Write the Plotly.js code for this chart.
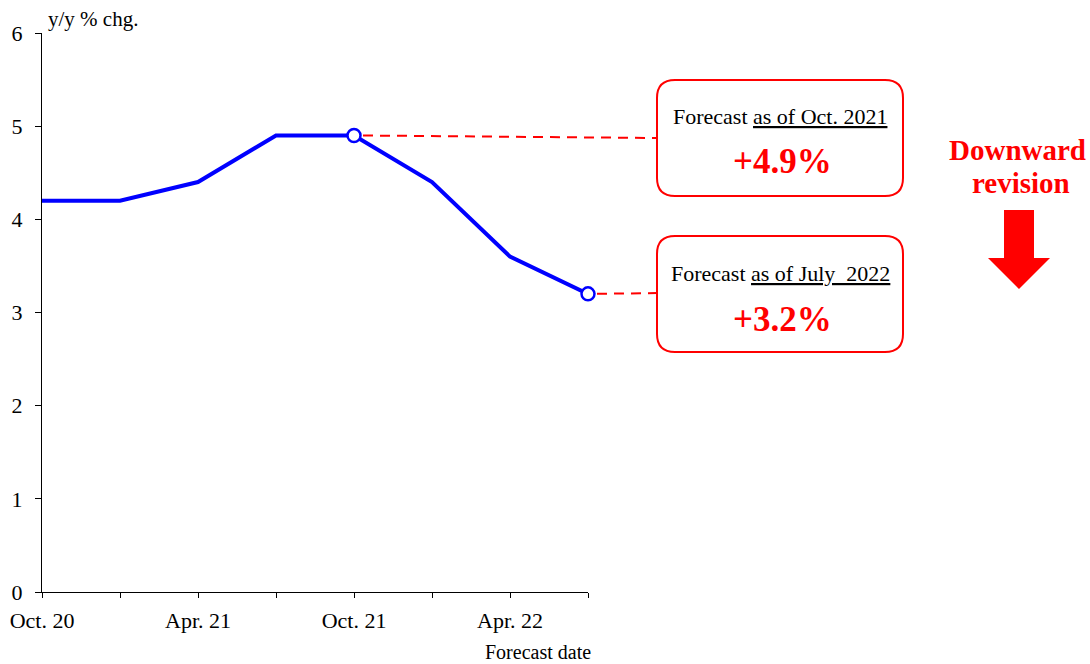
<!DOCTYPE html>
<html>
<head>
<meta charset="utf-8">
<script src="https://cdn.plot.ly/plotly-3.0.1.min.js"></script>
<style>
  html, body { margin: 0; padding: 0; background: #fff; }
  #chart { width: 1090px; height: 664px; }
</style>
</head>
<body>
<div id="chart"></div>
<script>
// forecast vintages (quarterly) and the forecast value at each
const forecastDates = ['Oct. 20', 'Jan. 21', 'Apr. 21', 'Jul. 21', 'Oct. 21', 'Jan. 22', 'Apr. 22', 'Jul. 22'];
const forecastValues = [4.2, 4.2, 4.4, 4.9, 4.9, 4.4, 3.6, 3.2];
const shownTickLabels = ['Oct. 20', '', 'Apr. 21', '', 'Oct. 21', '', 'Apr. 22', ''];
const highlighted = [4, 7];               // Oct. 21 and Jul. 22 vintages
const calloutTitles = ['Forecast <u>as of Oct. 2021</u>', 'Forecast <u>as of July  2022</u>'];
const calloutValues = ['+4.9%', '+3.2%'];

const RED = '#ff0000', BLUE = '#0000ff';
const FONT = 'Liberation Serif, Times New Roman, serif';

// plot area in pixels: left 42, right 588, top 33, bottom 592
const PL = 42, PR = 588, PT = 33, PB = 592;
const px = x => (x - PL) / (PR - PL);
const py = y => (PB - y) / (PB - PT);

const idx = forecastDates.map((_, i) => i);
const xMax = idx.length - 1, yMax = 6;
const dataPx = i => i / xMax;
const dataPy = v => v / yMax;

function roundRect(x0, y0, x1, y1, r) {
  // pixel coords in, paper path out
  const P = (x, y) => `${px(x)},${py(y)}`;
  return `M${P(x0 + r, y0)} L${P(x1 - r, y0)} Q${P(x1, y0)} ${P(x1, y0 + r)} ` +
    `L${P(x1, y1 - r)} Q${P(x1, y1)} ${P(x1 - r, y1)} L${P(x0 + r, y1)} ` +
    `Q${P(x0, y1)} ${P(x0, y1 - r)} L${P(x0, y0 + r)} Q${P(x0, y0)} ${P(x0 + r, y0)} Z`;
}

function arrowPath() {
  const pts = [[1004, 210], [1034, 210], [1034, 258], [1050, 258], [1019, 289], [988, 258], [1004, 258]];
  return 'M' + pts.map(p => `${px(p[0])},${py(p[1])}`).join(' L') + ' Z';
}

const boxes = [[657, 80, 903, 196], [657, 236, 903, 352]];

const shapes = [];
boxes.forEach(b => shapes.push({
  type: 'path', xref: 'paper', yref: 'paper', path: roundRect(b[0], b[1], b[2], b[3], 18),
  line: { color: RED, width: 2 }, fillcolor: 'rgba(0,0,0,0)'
}));
// dashed leaders from highlighted points to their callouts
const leaderEndsY = [138, 293];
highlighted.forEach((i, k) => shapes.push({
  type: 'line', xref: 'paper', yref: 'paper',
  x0: dataPx(i) + 9 / (PR - PL), y0: dataPy(forecastValues[i]),
  x1: px(boxes[k][0]), y1: py(leaderEndsY[k]),
  line: { color: RED, width: 2, dash: '10px,7px' }
}));
shapes.push({
  type: 'path', xref: 'paper', yref: 'paper', path: arrowPath(),
  line: { color: RED, width: 0 }, fillcolor: RED
});

const annotations = [
  { text: 'y/y % chg.', x: px(46), y: py(19), xanchor: 'left', yanchor: 'middle',
    font: { size: 21, color: '#000', family: FONT } },
  { text: 'Forecast date', x: px(538), y: py(652), xanchor: 'center', yanchor: 'middle',
    font: { size: 20, color: '#000', family: FONT } },
  { text: '<b>Downward</b>', x: px(1017), y: py(150), xanchor: 'center', yanchor: 'middle',
    font: { size: 29, color: RED, family: FONT } },
  { text: '<b>revision</b>', x: px(1021), y: py(183), xanchor: 'center', yanchor: 'middle',
    font: { size: 29, color: RED, family: FONT } }
];
const titleYs = [117, 273], valueYs = [162, 319];
calloutTitles.forEach((t, k) => {
  annotations.push({ text: t, x: px(780), y: py(titleYs[k]), xanchor: 'center', yanchor: 'middle',
    font: { size: 22, color: '#000', family: FONT } });
  annotations.push({ text: '<b>' + calloutValues[k] + '</b>', x: px(782), y: py(valueYs[k]),
    xanchor: 'center', yanchor: 'middle', font: { size: 35, color: RED, family: FONT } });
});
annotations.forEach(a => { a.xref = 'paper'; a.yref = 'paper'; a.showarrow = false; });

const traces = [
  {
    type: 'scatter', mode: 'lines', x: idx, y: forecastValues,
    line: { color: BLUE, width: 4 }, hoverinfo: 'skip', showlegend: false
  },
  {
    type: 'scatter', mode: 'markers',
    x: highlighted, y: highlighted.map(i => forecastValues[i]),
    marker: { size: 13, color: '#fff', line: { color: BLUE, width: 2.5 } },
    cliponaxis: false, hoverinfo: 'skip', showlegend: false
  }
];

const layout = {
  width: 1090, height: 664,
  paper_bgcolor: '#fff', plot_bgcolor: '#fff',
  font: { family: FONT, size: 22, color: '#000' },
  margin: { l: PL, r: 1090 - PR, t: PT, b: 664 - PB },
  showlegend: false,
  xaxis: {
    range: [0, xMax], tickmode: 'array', tickvals: idx, ticktext: shownTickLabels,
    showgrid: false, zeroline: false, showline: true, linecolor: '#000', linewidth: 1,
    ticks: 'outside', ticklen: 5, tickcolor: '#000', ticklabelstandoff: 4,
    tickfont: { size: 22, family: FONT }
  },
  yaxis: {
    range: [0, yMax], dtick: 1, showgrid: false, zeroline: false,
    showline: true, linecolor: '#000', linewidth: 1,
    ticks: 'outside', ticklen: 6, tickcolor: '#000', ticklabelstandoff: 8,
    tickfont: { size: 22, family: FONT }
  },
  shapes, annotations
};

Plotly.newPlot('chart', traces, layout, { displayModeBar: false, staticPlot: true });
</script>
</body>
</html>
